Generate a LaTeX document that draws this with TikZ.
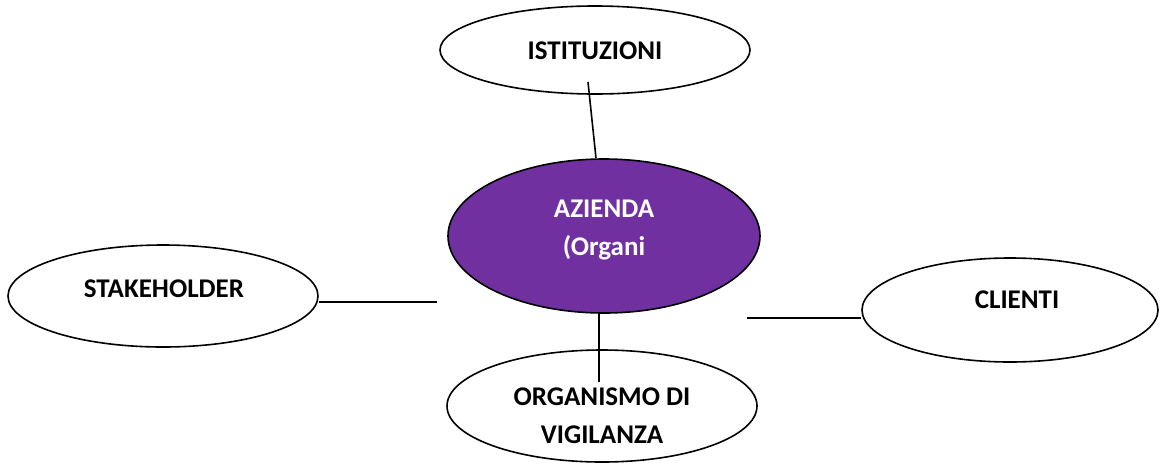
\documentclass[tikz,border=0pt]{standalone}
\usepackage{fontspec}
\setmainfont{Carlito}
\usepackage{tikz}
\usetikzlibrary{shapes.geometric}
\definecolor{viola}{HTML}{7030A0}
\tikzset{bolla/.style={draw, ellipse, line width=1.6pt, inner sep=0pt},
	testo/.style={font=\fontsize{27}{38}\selectfont\bfseries, align=center, inner sep=0pt},
	linea/.style={line width=1.6pt}}

\begin{document}
\begin{tikzpicture}[x=1pt, y=-1pt]
		\useasboundingbox (0,0) rectangle (1161,464);
		\node(ist)[bolla, minimum width=310, minimum height=88] at (595,50){};
		\node(az)[bolla, fill=viola, minimum width=312, minimum height=154] at (604,236){};
		\node(stk)[bolla, minimum width=310, minimum height=102] at (163,296){};
		\node(cli)[bolla, minimum width=296, minimum height=104] at (1010,310){};
		\node(ovg)[bolla, minimum width=310, minimum height=112] at (602,406){};
		\node(istT)[testo] at (595,51){ISTITUZIONI};
		\node(azT)[testo, text=white] at (604,230){AZIENDA\\(Organi};
		\node(stkT)[testo] at (164,289){STAKEHOLDER};
		\node(cliT)[testo] at (1017,300){CLIENTI};
		\node(ovgT)[testo] at (602,416){ORGANISMO DI\\VIGILANZA};
		\coordinate(istFine) at (588,82);
		\coordinate(stkFine) at (437,302);
		\coordinate(cliFine) at (747,318);
		\coordinate(ovgFine) at (599,382);
		\draw[linea](istFine) -- ([xshift=-8]az.north);
		\draw[linea](stkFine -| stk.east) -- (stkFine);
		\draw[linea](cliFine) -- (cliFine -| cli.west);
		\draw[linea](ovgFine |- az.south) -- (ovgFine);
	\end{tikzpicture}
\end{document}
